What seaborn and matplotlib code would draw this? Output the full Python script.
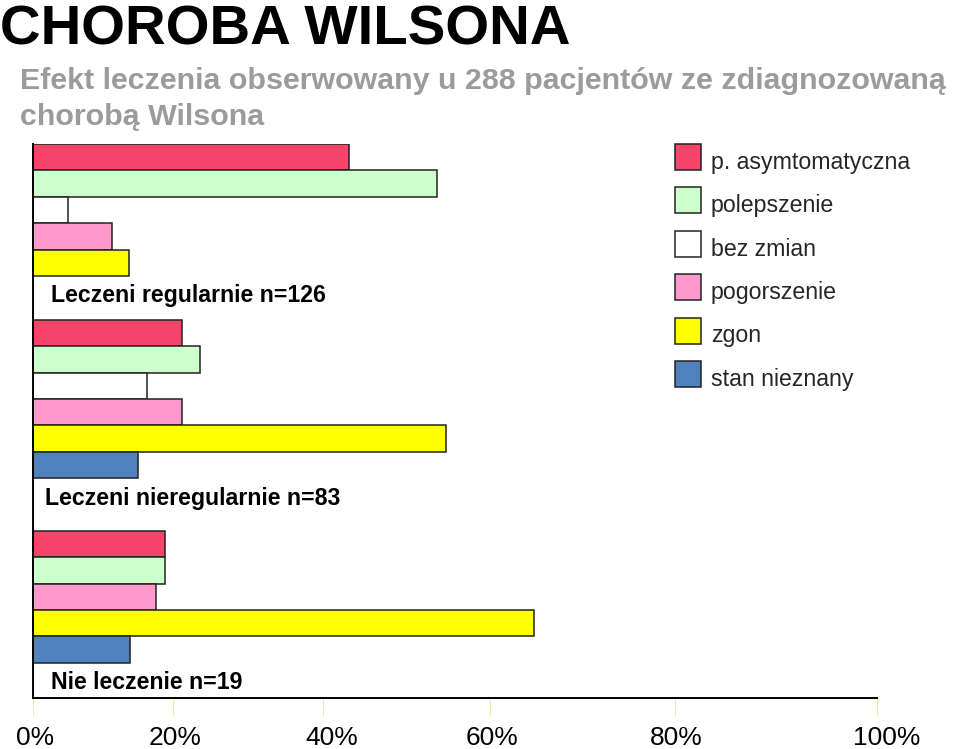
import numpy as np
import pandas as pd
import matplotlib
matplotlib.use("Agg")
import matplotlib.pyplot as plt
import matplotlib.transforms as mtransforms
from matplotlib.patches import Patch
import seaborn as sns

# ---------------- data ----------------
groups = ["Leczeni regularnie n=126", "Leczeni nieregularnie n=83", "Nie leczenie n=19"]
statuses = ["p. asymtomatyczna", "polepszenie", "bez zmian", "pogorszenie", "zgon", "stan nieznany"]
status_colors = ["#F5446A", "#CCFFCC", "#FFFFFF", "#FF99CC", "#FFFF00", "#4F81BD"]
vals_regular = [43.2, 53.7, 5.0, 11.2, 13.7, None]
vals_irregular = [21.2, 23.6, 16.2, 21.2, 54.7, 15.0]
vals_untreated = [18.8, 18.8, None, 17.5, 64.8, 13.8]
tick_values = [0, 20, 40, 60, 80, 100]
tick_labels = ["0%", "20%", "40%", "60%", "80%", "100%"]
title = "CHOROBA WILSONA"
subtitle_1 = "Efekt leczenia obserwowany u 288 pacjentów ze zdiagnozowaną"
subtitle_2 = "chorobą Wilsona"

# ---------------- layout ----------------
# the original axis is not evenly spaced: screen fraction of each tick
tick_screen_frac = [0.0, 0.1663, 0.3434, 0.5417, 0.7609, 1.0]
tick_label_dx_px = [2, 2, 9, 2, 1, 10]
gaps_after = [1.667, 2.0, 1.333]   # empty space after each group, in bar heights
label_offset = 0.76                # group label centre below last bar edge
label_x = [0.0213, 0.0142, 0.0213]

rows = []
label_pos = []
pos = 0.0
for g, vals, gap in zip(groups, [vals_regular, vals_irregular, vals_untreated], gaps_after):
    for s, v in zip(statuses, vals):
        if v is None:
            continue
        rows.append({"pos": pos, "status": s, "value": v, "group": g})
        pos += 1.0
    label_pos.append(pos - 0.5 + label_offset)
    pos += gap
y_bottom = pos - 0.5
df = pd.DataFrame(rows)

sns.set_style("white")
plt.rcParams["font.family"] = ["Liberation Sans", "DejaVu Sans"]

fig = plt.figure(figsize=(9.6, 7.49), dpi=100)
ax = fig.add_axes([33 / 960, 1 - 698 / 749, (876.7 - 33) / 960, (698 - 144) / 749])

palette = dict(zip(statuses, status_colors))
sns.barplot(data=df, x="value", y="pos", hue="status", hue_order=statuses,
            palette=palette, orient="y", native_scale=True, dodge=False,
            width=1.0, errorbar=None, edgecolor="#222222", linewidth=1.1,
            saturation=1, legend=False, ax=ax)

fwd = lambda v: np.interp(v, tick_values, tick_screen_frac)
inv = lambda f: np.interp(f, tick_screen_frac, tick_values)
ax.set_xscale("function", functions=(fwd, inv))
ax.set_xlim(0, 100)
ax.set_ylim(y_bottom, -0.5)

ax.set_xticks(tick_values)
ax.set_xticklabels(tick_labels)
ax.set_yticks([])
ax.set_xlabel("")
ax.set_ylabel("")
ax.tick_params(axis="x", direction="out", length=13, width=0.8, color="#EDEDA8",
               pad=7, labelsize=19, labelcolor="black", bottom=True)
for lab, dx in zip(ax.get_xticklabels(), tick_label_dx_px):
    lab.set_transform(lab.get_transform() +
                      mtransforms.ScaledTranslation(dx / 100, 0, fig.dpi_scale_trans))
for side in ["top", "right"]:
    ax.spines[side].set_visible(False)
for side in ["left", "bottom"]:
    ax.spines[side].set_visible(True)
    ax.spines[side].set_color("black")
    ax.spines[side].set_linewidth(1.4)
ax.grid(False)

trans = mtransforms.blended_transform_factory(ax.transAxes, ax.transData)
for g, y, x in zip(groups, label_pos, label_x):
    ax.text(x, y, g, transform=trans, ha="left", va="center",
            fontsize=16.7, fontweight="bold", color="black")

handles = [Patch(facecolor=c, edgecolor="#222222", linewidth=1.1) for c in status_colors]
fs = 16.7
leg = fig.legend(handles, statuses, loc="upper left", bbox_to_anchor=(675 / 960, 1 - 144 / 749),
                 frameon=False, fontsize=fs, borderpad=0, borderaxespad=0,
                 handlelength=26 / 23.2, handleheight=1.347, handletextpad=10 / 23.2,
                 labelspacing=0.75)
for t in leg.get_texts():
    t.set_transform(t.get_transform() +
                    mtransforms.ScaledTranslation(0, -0.04, fig.dpi_scale_trans))

fig.text(0.0, 1 - 44.5 / 749, title, fontsize=40.6, fontweight="bold",
         color="black", ha="left", va="baseline")
fig.text(20 / 960, 1 - 89 / 749, subtitle_1, fontsize=21.9, fontweight="bold",
         color="#9B9B9B", ha="left", va="baseline")
fig.text(20 / 960, 1 - 125 / 749, subtitle_2, fontsize=21.9, fontweight="bold",
         color="#9B9B9B", ha="left", va="baseline")

fig.savefig("out.png", dpi=100)
